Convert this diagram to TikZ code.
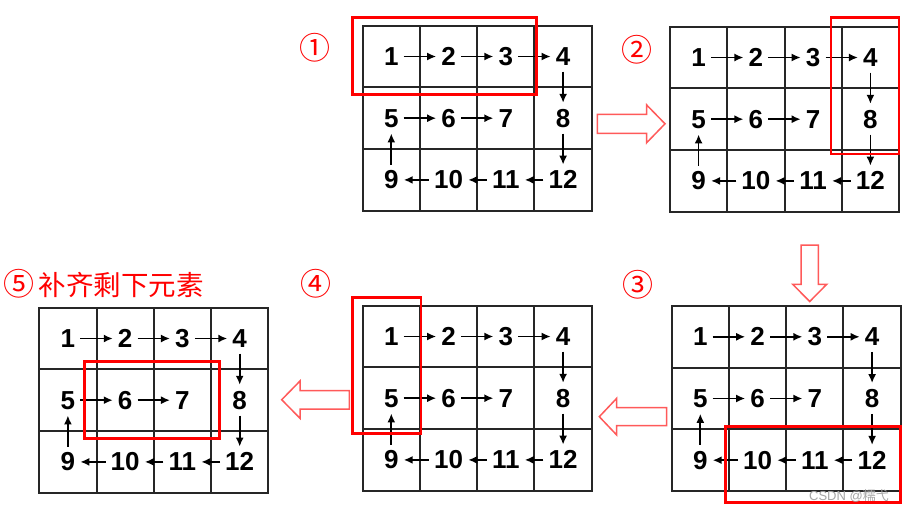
\documentclass[tikz,border=0pt]{standalone}
\usepackage{fontspec}
\setmainfont{Liberation Sans}
\newfontfamily\cjk{Noto Sans CJK SC}
\usetikzlibrary{arrows.meta}
\definecolor{gridgray}{HTML}{262626}
\definecolor{hired}{HTML}{FF0000}
\definecolor{pinkred}{HTML}{FF5A5A}

\begin{document}
\begin{tikzpicture}[x=1pt,y=-1pt]
  \tikzset{ num/.style={font=\bfseries\fontsize{26}{26}\selectfont,inner xsep=5pt,inner ysep=6pt},
    flow/.style={-{Latex[length=9pt,width=8pt]},line width=1.7pt},
    cell/.style={line width=2pt,gridgray},
    hl/.style={line width=2.5pt,hired},
    blk/.style={line width=1.5pt,pinkred,fill=white,line join=miter},
    tag/.style={hired,font=\cjk\fontsize{31}{31}\selectfont,inner sep=0pt},
  }
  \fill[white] (0,0) rectangle (912,512);
  \useasboundingbox (0,0) rectangle (912,512);

  % the five spiral grids
  \foreach \g/\ox/\oy in {1/362.7/25.7, 2/670/26.7, 3/671.7/306, 4/362.7/305.7, 5/39.3/307.7} {
    \begin{scope}[shift={(\ox,\oy)}]
      \draw[cell] (0,0) rectangle (229,185);
      \draw[cell] (57.25,0) -- (57.25,185) (114.5,0) -- (114.5,185) (171.75,0) -- (171.75,185)
                  (0,61.7) -- (229,61.7) (0,123.3) -- (229,123.3);
      \node[num] (n\g-1) at (28.6,30.8) {1};
      \node[num] (n\g-2) at (85.9,30.8) {2};
      \node[num] (n\g-3) at (143.1,30.8) {3};
      \node[num] (n\g-4) at (200.4,30.8) {4};
      \node[num] (n\g-5) at (28.6,92.5) {5};
      \node[num] (n\g-6) at (85.9,92.5) {6};
      \node[num] (n\g-7) at (143.1,92.5) {7};
      \node[num] (n\g-8) at (200.4,92.5) {8};
      \node[num] (n\g-9) at (28.6,154.2) {9};
      \node[num] (n\g-10) at (85.9,154.2) {10};
      \node[num] (n\g-11) at (143.1,154.2) {11};
      \node[num] (n\g-12) at (200.4,154.2) {12};
      \foreach \a/\b in {1/2,2/3,3/4,4/8,8/12,12/11,11/10,10/9,9/5,5/6,6/7}
        \draw[flow] (n\g-\a) -- (n\g-\b);
    \end{scope}
  }

  % highlighted parts
  \draw[hl] (352.7,17.3) rectangle (536.7,94.3);
  \draw[hl] (831,17.3) rectangle (899,154);
  \draw[hl] (725.7,426.7) rectangle (900.7,502.7);
  \draw[hl] (352.7,297.3) rectangle (421,433.3);
  \draw[hl] (84.3,361.7) rectangle (219.3,438.3);

  % block arrows between the steps
  \draw[blk] (597.3,114.3) -- (646.7,114.3) -- (646.7,105) -- (665,123.8)
             -- (646.7,142.7) -- (646.7,133.3) -- (597.3,133.3) -- cycle;
  \draw[blk] (801,245) -- (818.3,245) -- (818.3,284.3) -- (826.7,284.3)
             -- (809.7,301.5) -- (792.7,284.3) -- (801,284.3) -- cycle;
  \draw[blk] (666.7,407.7) -- (616.7,407.7) -- (616.7,398.3) -- (599.3,416.7)
             -- (616.7,435) -- (616.7,425.7) -- (666.7,425.7) -- cycle;
  \draw[blk] (349.3,390.7) -- (300,390.7) -- (300,381) -- (281.7,399.7)
             -- (300,418.3) -- (300,409) -- (349.3,409) -- cycle;

  \node[tag] (s1) at (315,48) {①};
  \node[tag] (s2) at (637,50) {②};
  \node[tag] (s3) at (638,285) {③};
  \node[tag] (s4) at (316,284) {④};
  \node[tag,anchor=west] (s5) at (3,284) {⑤\fontsize{27.5}{27.5}\selectfont\,补齐剩下元素};

  \node[gray!70,font=\fontsize{13}{13}\selectfont,anchor=east,inner sep=0pt] (mark) at (889,496) {CSDN @{\cjk 糯弋}};
\end{tikzpicture}
\end{document}
